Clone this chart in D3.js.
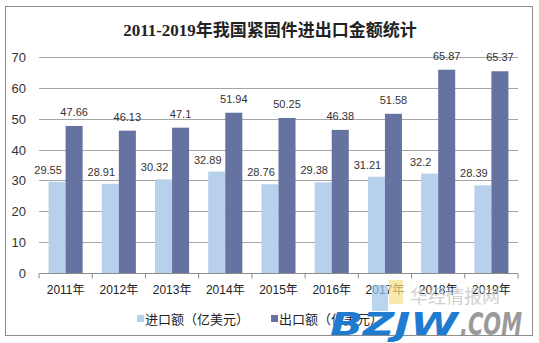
<!DOCTYPE html>
<html>
<head>
<meta charset="utf-8">
<script src="https://cdn.jsdelivr.net/npm/d3@7"></script>
<style>
  html, body { margin: 0; padding: 0; background: #fff; }
  svg { display: block; }
</style>
</head>
<body>
<script>
// Fastener import / export values, 2011-2019 (100 million USD)
const years = ["2011年", "2012年", "2013年", "2014年", "2015年", "2016年", "2017年", "2018年", "2019年"];
const importValues = [29.55, 28.91, 30.32, 32.89, 28.76, 29.38, 31.21, 32.2, 28.39];
const exportValues = [47.66, 46.13, 47.1, 51.94, 50.25, 46.38, 51.58, 65.87, 65.37];
const seriesNames = ["进口额（亿美元）", "出口额（亿美元）"];
const yTicks = [0, 10, 20, 30, 40, 50, 60, 70];

const W = 539, H = 343;
const colors = ["#B7D0EC", "#66729F"];
const cjk = "'Liberation Sans', 'Noto Sans CJK SC', sans-serif";

const svg = d3.select("body").append("svg").attr("width", W).attr("height", H);

// chart frame
svg.append("rect").attr("x", 5.5).attr("y", 6.5).attr("width", 527).attr("height", 329)
  .attr("fill", "#fff").attr("stroke", "#8c8c8c").attr("stroke-width", 1);

// title
svg.append("text").attr("x", 270).attr("y", 36).attr("text-anchor", "middle")
  .attr("font-family", "'Liberation Serif', 'Noto Sans CJK SC', serif")
  .attr("font-weight", "bold").attr("font-size", 17).attr("fill", "#222")
  .text("2011-2019年我国紧固件进出口金额统计");

const x0 = d3.scaleBand().domain(years).range([39, 518]).paddingInner(0.36).paddingOuter(0.18);
const x1 = d3.scaleBand().domain([0, 1]).range([0, x0.bandwidth()]);
const y = d3.scaleLinear().domain([0, 70]).range([273, 57]);

// gridlines
svg.append("g").selectAll("line").data(yTicks.filter(d => d > 0)).join("line")
  .attr("x1", 39).attr("x2", 518)
  .attr("y1", d => Math.round(y(d)) + 0.5).attr("y2", d => Math.round(y(d)) + 0.5)
  .attr("stroke", "#a6a6a6").attr("stroke-width", 1);

// y axis labels
svg.append("g").selectAll("text").data(yTicks).join("text")
  .attr("x", 26).attr("y", d => y(d) + 5).attr("text-anchor", "end")
  .attr("font-family", "'Liberation Sans', Arial, sans-serif").attr("font-size", 13).attr("fill", "#333")
  .text(d => d);

// bars with value labels (import labels sit left of their bar)
const series = [importValues, exportValues];
const labelShift = [-9, 0];
const labelLift = [8, 10];
series.forEach((vals, si) => {
  svg.append("g").selectAll("rect").data(vals).join("rect")
    .attr("x", (d, i) => x0(years[i]) + x1(si))
    .attr("y", d => y(d))
    .attr("width", x1.bandwidth())
    .attr("height", d => y(0) - y(d))
    .attr("fill", colors[si]);
  svg.append("g").selectAll("text").data(vals).join("text")
    .attr("x", (d, i) => x0(years[i]) + x1(si) + x1.bandwidth() / 2 + labelShift[si])
    .attr("y", d => y(d) - labelLift[si])
    .attr("text-anchor", "middle")
    .attr("font-family", "'Liberation Sans', Arial, sans-serif").attr("font-size", 11).attr("fill", "#333")
    .text(d => d);
});

// x axis
const xAxis = d3.axisBottom(x0).tickSize(0).tickPadding(12);
const gx = svg.append("g").attr("transform", `translate(0,${Math.round(y(0)) + 0.5})`).call(xAxis);
gx.select(".domain").attr("stroke", "#8c8c8c").attr("d", "M39,0H518");
gx.selectAll(".tick text").attr("font-family", cjk).attr("font-size", 12).attr("fill", "#222");
// category separators
const seps = d3.range(years.length + 1).map(i => 39 + i * (518 - 39) / years.length);
gx.selectAll(".sep").data(seps).join("line").attr("class", "sep")
  .attr("x1", d => d).attr("x2", d => d).attr("y1", 0).attr("y2", 5)
  .attr("stroke", "#8c8c8c");

// legend
const legendX = [137, 271];
seriesNames.forEach((name, i) => {
  svg.append("rect").attr("x", legendX[i]).attr("y", 315).attr("width", 7).attr("height", 7).attr("fill", colors[i]);
  svg.append("text").attr("x", legendX[i] + 8).attr("y", 324)
    .attr("font-family", cjk).attr("font-size", 13).attr("fill", "#222").text(name);
});

// watermark
const wm = svg.append("g");
wm.append("rect").attr("x", 372).attr("y", 285).attr("width", 16).attr("height", 26).attr("fill", "#9cc3ea").attr("opacity", 0.7);
wm.append("rect").attr("x", 389).attr("y", 280).attr("width", 14).attr("height", 24).attr("fill", "#f5e08a").attr("opacity", 0.7);
wm.append("text").attr("x", 410).attr("y", 303).attr("font-family", "'Noto Sans CJK SC', sans-serif").attr("font-size", 18)
  .attr("fill", "#c8c8c8").attr("opacity", 0.85).text("华经情报网");
wm.append("text").attr("x", 330).attr("y", 335).attr("font-family", "'DejaVu Sans', sans-serif")
  .attr("font-weight", "bold").attr("font-style", "italic").attr("font-size", 32)
  .attr("fill", "#1f7bd0").attr("textLength", 128).attr("lengthAdjust", "spacingAndGlyphs").text("BZJW");
wm.append("text").attr("x", 460).attr("y", 335).attr("font-family", "'DejaVu Sans', sans-serif")
  .attr("font-weight", "bold").attr("font-style", "italic").attr("font-size", 32)
  .attr("fill", "#9a9a9a").attr("textLength", 62).attr("lengthAdjust", "spacingAndGlyphs").text(".COM");
</script>
</body>
</html>
